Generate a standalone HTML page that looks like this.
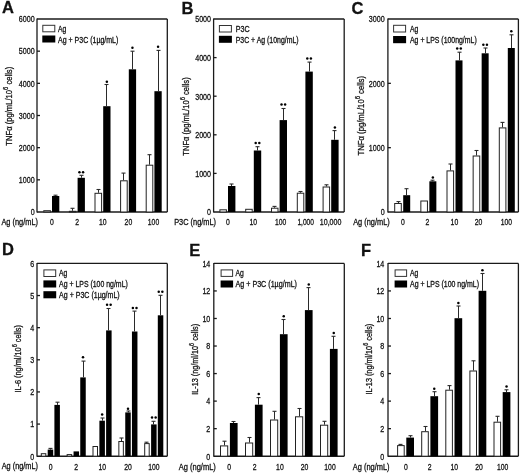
<!DOCTYPE html>
<html><head><meta charset="utf-8"><title>Figure</title>
<style>
html,body{margin:0;padding:0;background:#fff;}
body{width:520px;height:475px;overflow:hidden;}
svg{display:block;font-family:"Liberation Sans", sans-serif;filter:blur(0.25px);}
</style></head>
<body>
<svg width="520" height="475" viewBox="0 0 520 475" fill="#111">
<style>text{stroke:#111;stroke-width:0.28px;}</style>
<rect x="0" y="0" width="520" height="475" fill="#fff"/>
<text x="2.00" y="13.40" font-size="16.5" text-anchor="start" font-weight="bold">A</text>
<line x1="37.00" y1="19.00" x2="167.30" y2="19.00" stroke="#1a1a1a" stroke-width="1.3"/>
<line x1="167.30" y1="19.00" x2="167.30" y2="212.00" stroke="#1a1a1a" stroke-width="1.3"/>
<line x1="37.00" y1="212.00" x2="167.30" y2="212.00" stroke="#1a1a1a" stroke-width="1.6"/>
<line x1="37.00" y1="18.50" x2="37.00" y2="212.50" stroke="#1a1a1a" stroke-width="1.3"/>
<text x="34.60" y="215.30" font-size="8.7" text-anchor="end" font-weight="normal" textLength="3.95" lengthAdjust="spacingAndGlyphs">0</text>
<line x1="37.00" y1="179.83" x2="40.00" y2="179.83" stroke="#1a1a1a" stroke-width="1.3"/>
<text x="34.60" y="183.13" font-size="8.7" text-anchor="end" font-weight="normal" textLength="15.80" lengthAdjust="spacingAndGlyphs">1000</text>
<line x1="37.00" y1="147.67" x2="40.00" y2="147.67" stroke="#1a1a1a" stroke-width="1.3"/>
<text x="34.60" y="150.97" font-size="8.7" text-anchor="end" font-weight="normal" textLength="15.80" lengthAdjust="spacingAndGlyphs">2000</text>
<line x1="37.00" y1="115.50" x2="40.00" y2="115.50" stroke="#1a1a1a" stroke-width="1.3"/>
<text x="34.60" y="118.80" font-size="8.7" text-anchor="end" font-weight="normal" textLength="15.80" lengthAdjust="spacingAndGlyphs">3000</text>
<line x1="37.00" y1="83.33" x2="40.00" y2="83.33" stroke="#1a1a1a" stroke-width="1.3"/>
<text x="34.60" y="86.63" font-size="8.7" text-anchor="end" font-weight="normal" textLength="15.80" lengthAdjust="spacingAndGlyphs">4000</text>
<line x1="37.00" y1="51.17" x2="40.00" y2="51.17" stroke="#1a1a1a" stroke-width="1.3"/>
<text x="34.60" y="54.47" font-size="8.7" text-anchor="end" font-weight="normal" textLength="15.80" lengthAdjust="spacingAndGlyphs">5000</text>
<text x="34.60" y="22.30" font-size="8.7" text-anchor="end" font-weight="normal" textLength="15.80" lengthAdjust="spacingAndGlyphs">6000</text>
<text x="51.80" y="225.00" font-size="8.6" text-anchor="middle" font-weight="normal" textLength="3.80" lengthAdjust="spacingAndGlyphs">0</text>
<text x="77.10" y="225.00" font-size="8.6" text-anchor="middle" font-weight="normal" textLength="3.80" lengthAdjust="spacingAndGlyphs">2</text>
<text x="102.80" y="225.00" font-size="8.6" text-anchor="middle" font-weight="normal" textLength="7.60" lengthAdjust="spacingAndGlyphs">10</text>
<text x="128.40" y="225.00" font-size="8.6" text-anchor="middle" font-weight="normal" textLength="7.60" lengthAdjust="spacingAndGlyphs">20</text>
<text x="153.50" y="225.00" font-size="8.6" text-anchor="middle" font-weight="normal" textLength="11.30" lengthAdjust="spacingAndGlyphs">100</text>
<text x="1.40" y="224.90" font-size="8.2" text-anchor="start" font-weight="normal" textLength="36.60" lengthAdjust="spacingAndGlyphs">Ag (ng/mL)</text>
<text transform="translate(11.80,145.70) rotate(-90)" x="0" y="0" font-size="8.6" textLength="78.90" lengthAdjust="spacingAndGlyphs">TNFα (pg/mL/10<tspan font-size="6.6" dy="-4.0">6</tspan><tspan dy="4.0"> cells)</tspan></text>
<rect x="42.80" y="25.30" width="12.00" height="6.50" fill="#fff" stroke="#333" stroke-width="1.0"/>
<text x="58.10" y="32.20" font-size="8.2" text-anchor="start" font-weight="normal" textLength="8.30" lengthAdjust="spacingAndGlyphs">Ag</text>
<rect x="42.30" y="35.50" width="13.00" height="7.00" fill="#000"/>
<text x="58.10" y="42.90" font-size="8.2" text-anchor="start" font-weight="normal" textLength="60.20" lengthAdjust="spacingAndGlyphs">Ag + P3C (1µg/mL)</text>
<rect x="43.80" y="210.70" width="6.60" height="1.30" fill="#fff" stroke="#222" stroke-width="1.0"/>
<rect x="52.00" y="196.00" width="7.30" height="16.00" fill="#000"/>
<line x1="55.50" y1="196.00" x2="55.50" y2="195.20" stroke="#2a2a2a" stroke-width="1.0"/>
<line x1="53.50" y1="195.20" x2="57.50" y2="195.20" stroke="#2a2a2a" stroke-width="1.1"/>
<rect x="69.40" y="211.30" width="6.60" height="0.70" fill="#fff" stroke="#222" stroke-width="1.0"/>
<line x1="72.50" y1="210.80" x2="72.50" y2="208.30" stroke="#2a2a2a" stroke-width="1.0"/>
<line x1="70.50" y1="208.30" x2="74.50" y2="208.30" stroke="#2a2a2a" stroke-width="1.1"/>
<rect x="77.60" y="177.80" width="7.30" height="34.20" fill="#000"/>
<line x1="81.50" y1="177.80" x2="81.50" y2="175.30" stroke="#2a2a2a" stroke-width="1.0"/>
<line x1="79.50" y1="175.30" x2="83.50" y2="175.30" stroke="#2a2a2a" stroke-width="1.1"/>
<circle cx="79.45" cy="172.20" r="1.25" fill="#000"/>
<circle cx="83.05" cy="172.20" r="1.25" fill="#000"/>
<rect x="95.00" y="193.30" width="6.60" height="18.70" fill="#fff" stroke="#222" stroke-width="1.0"/>
<line x1="98.50" y1="192.80" x2="98.50" y2="189.50" stroke="#2a2a2a" stroke-width="1.0"/>
<line x1="96.50" y1="189.50" x2="100.50" y2="189.50" stroke="#2a2a2a" stroke-width="1.1"/>
<rect x="103.20" y="106.20" width="7.30" height="105.80" fill="#000"/>
<line x1="106.50" y1="106.20" x2="106.50" y2="84.50" stroke="#2a2a2a" stroke-width="1.0"/>
<line x1="104.50" y1="84.50" x2="108.50" y2="84.50" stroke="#2a2a2a" stroke-width="1.1"/>
<circle cx="106.85" cy="81.80" r="1.25" fill="#000"/>
<rect x="120.60" y="180.80" width="6.60" height="31.20" fill="#fff" stroke="#222" stroke-width="1.0"/>
<line x1="123.50" y1="180.30" x2="123.50" y2="173.10" stroke="#2a2a2a" stroke-width="1.0"/>
<line x1="121.50" y1="173.10" x2="125.50" y2="173.10" stroke="#2a2a2a" stroke-width="1.1"/>
<rect x="128.80" y="69.30" width="7.30" height="142.70" fill="#000"/>
<line x1="132.50" y1="69.30" x2="132.50" y2="51.20" stroke="#2a2a2a" stroke-width="1.0"/>
<line x1="130.50" y1="51.20" x2="134.50" y2="51.20" stroke="#2a2a2a" stroke-width="1.1"/>
<circle cx="132.45" cy="47.80" r="1.25" fill="#000"/>
<rect x="146.20" y="165.20" width="6.60" height="46.80" fill="#fff" stroke="#222" stroke-width="1.0"/>
<line x1="149.50" y1="164.70" x2="149.50" y2="154.70" stroke="#2a2a2a" stroke-width="1.0"/>
<line x1="147.50" y1="154.70" x2="151.50" y2="154.70" stroke="#2a2a2a" stroke-width="1.1"/>
<rect x="154.40" y="91.20" width="7.30" height="120.80" fill="#000"/>
<line x1="158.50" y1="91.20" x2="158.50" y2="50.40" stroke="#2a2a2a" stroke-width="1.0"/>
<line x1="156.50" y1="50.40" x2="160.50" y2="50.40" stroke="#2a2a2a" stroke-width="1.1"/>
<circle cx="158.05" cy="46.80" r="1.25" fill="#000"/>
<text x="181.60" y="13.60" font-size="16.5" text-anchor="start" font-weight="bold">B</text>
<line x1="213.60" y1="19.00" x2="344.20" y2="19.00" stroke="#1a1a1a" stroke-width="1.3"/>
<line x1="344.20" y1="19.00" x2="344.20" y2="212.00" stroke="#1a1a1a" stroke-width="1.3"/>
<line x1="213.60" y1="212.00" x2="344.20" y2="212.00" stroke="#1a1a1a" stroke-width="1.6"/>
<line x1="213.60" y1="18.50" x2="213.60" y2="212.50" stroke="#1a1a1a" stroke-width="1.3"/>
<text x="211.00" y="215.30" font-size="8.7" text-anchor="end" font-weight="normal" textLength="3.95" lengthAdjust="spacingAndGlyphs">0</text>
<line x1="213.60" y1="173.40" x2="216.60" y2="173.40" stroke="#1a1a1a" stroke-width="1.3"/>
<text x="211.00" y="176.70" font-size="8.7" text-anchor="end" font-weight="normal" textLength="15.80" lengthAdjust="spacingAndGlyphs">1000</text>
<line x1="213.60" y1="134.80" x2="216.60" y2="134.80" stroke="#1a1a1a" stroke-width="1.3"/>
<text x="211.00" y="138.10" font-size="8.7" text-anchor="end" font-weight="normal" textLength="15.80" lengthAdjust="spacingAndGlyphs">2000</text>
<line x1="213.60" y1="96.20" x2="216.60" y2="96.20" stroke="#1a1a1a" stroke-width="1.3"/>
<text x="211.00" y="99.50" font-size="8.7" text-anchor="end" font-weight="normal" textLength="15.80" lengthAdjust="spacingAndGlyphs">3000</text>
<line x1="213.60" y1="57.60" x2="216.60" y2="57.60" stroke="#1a1a1a" stroke-width="1.3"/>
<text x="211.00" y="60.90" font-size="8.7" text-anchor="end" font-weight="normal" textLength="15.80" lengthAdjust="spacingAndGlyphs">4000</text>
<text x="211.00" y="22.30" font-size="8.7" text-anchor="end" font-weight="normal" textLength="15.80" lengthAdjust="spacingAndGlyphs">5000</text>
<text x="228.00" y="225.00" font-size="8.6" text-anchor="middle" font-weight="normal" textLength="3.80" lengthAdjust="spacingAndGlyphs">0</text>
<text x="253.20" y="225.00" font-size="8.6" text-anchor="middle" font-weight="normal" textLength="7.60" lengthAdjust="spacingAndGlyphs">10</text>
<text x="280.70" y="225.00" font-size="8.6" text-anchor="middle" font-weight="normal" textLength="11.30" lengthAdjust="spacingAndGlyphs">100</text>
<text x="305.70" y="225.00" font-size="8.6" text-anchor="middle" font-weight="normal" textLength="16.60" lengthAdjust="spacingAndGlyphs">1,000</text>
<text x="330.60" y="225.00" font-size="8.6" text-anchor="middle" font-weight="normal" textLength="21.60" lengthAdjust="spacingAndGlyphs">10,000</text>
<text x="174.20" y="225.20" font-size="8.2" text-anchor="start" font-weight="normal" textLength="41.80" lengthAdjust="spacingAndGlyphs">P3C (ng/mL)</text>
<text transform="translate(188.80,155.70) rotate(-90)" x="0" y="0" font-size="8.6" textLength="78.40" lengthAdjust="spacingAndGlyphs">TNFα (pg/mL/10<tspan font-size="6.6" dy="-4.0">6</tspan><tspan dy="4.0"> cells)</tspan></text>
<rect x="219.40" y="25.50" width="12.00" height="6.50" fill="#fff" stroke="#333" stroke-width="1.0"/>
<text x="235.70" y="32.40" font-size="8.2" text-anchor="start" font-weight="normal" textLength="13.90" lengthAdjust="spacingAndGlyphs">P3C</text>
<rect x="218.90" y="35.80" width="13.00" height="7.00" fill="#000"/>
<text x="235.70" y="43.00" font-size="8.2" text-anchor="start" font-weight="normal" textLength="62.90" lengthAdjust="spacingAndGlyphs">P3C + Ag (10ng/mL)</text>
<rect x="219.90" y="209.80" width="6.50" height="2.20" fill="#fff" stroke="#222" stroke-width="1.0"/>
<rect x="228.00" y="186.00" width="7.40" height="26.00" fill="#000"/>
<line x1="231.50" y1="186.00" x2="231.50" y2="184.00" stroke="#2a2a2a" stroke-width="1.0"/>
<line x1="229.50" y1="184.00" x2="233.50" y2="184.00" stroke="#2a2a2a" stroke-width="1.1"/>
<rect x="245.70" y="209.30" width="6.50" height="2.70" fill="#fff" stroke="#222" stroke-width="1.0"/>
<rect x="253.80" y="150.50" width="7.40" height="61.50" fill="#000"/>
<line x1="257.50" y1="150.50" x2="257.50" y2="146.70" stroke="#2a2a2a" stroke-width="1.0"/>
<line x1="255.50" y1="146.70" x2="259.50" y2="146.70" stroke="#2a2a2a" stroke-width="1.1"/>
<circle cx="255.70" cy="143.00" r="1.25" fill="#000"/>
<circle cx="259.30" cy="143.00" r="1.25" fill="#000"/>
<rect x="271.50" y="208.20" width="6.50" height="3.80" fill="#fff" stroke="#222" stroke-width="1.0"/>
<line x1="274.50" y1="207.70" x2="274.50" y2="206.40" stroke="#2a2a2a" stroke-width="1.0"/>
<line x1="272.50" y1="206.40" x2="276.50" y2="206.40" stroke="#2a2a2a" stroke-width="1.1"/>
<rect x="279.60" y="120.10" width="7.40" height="91.90" fill="#000"/>
<line x1="283.50" y1="120.10" x2="283.50" y2="108.50" stroke="#2a2a2a" stroke-width="1.0"/>
<line x1="281.50" y1="108.50" x2="285.50" y2="108.50" stroke="#2a2a2a" stroke-width="1.1"/>
<circle cx="281.50" cy="104.40" r="1.25" fill="#000"/>
<circle cx="285.10" cy="104.40" r="1.25" fill="#000"/>
<rect x="297.30" y="193.20" width="6.50" height="18.80" fill="#fff" stroke="#222" stroke-width="1.0"/>
<line x1="300.50" y1="192.70" x2="300.50" y2="191.50" stroke="#2a2a2a" stroke-width="1.0"/>
<line x1="298.50" y1="191.50" x2="302.50" y2="191.50" stroke="#2a2a2a" stroke-width="1.1"/>
<rect x="305.40" y="71.60" width="7.40" height="140.40" fill="#000"/>
<line x1="309.50" y1="71.60" x2="309.50" y2="62.10" stroke="#2a2a2a" stroke-width="1.0"/>
<line x1="307.50" y1="62.10" x2="311.50" y2="62.10" stroke="#2a2a2a" stroke-width="1.1"/>
<circle cx="307.30" cy="58.60" r="1.25" fill="#000"/>
<circle cx="310.90" cy="58.60" r="1.25" fill="#000"/>
<rect x="323.10" y="187.00" width="6.50" height="25.00" fill="#fff" stroke="#222" stroke-width="1.0"/>
<line x1="326.50" y1="186.50" x2="326.50" y2="184.80" stroke="#2a2a2a" stroke-width="1.0"/>
<line x1="324.50" y1="184.80" x2="328.50" y2="184.80" stroke="#2a2a2a" stroke-width="1.1"/>
<rect x="331.20" y="139.80" width="7.40" height="72.20" fill="#000"/>
<line x1="334.50" y1="139.80" x2="334.50" y2="130.60" stroke="#2a2a2a" stroke-width="1.0"/>
<line x1="332.50" y1="130.60" x2="336.50" y2="130.60" stroke="#2a2a2a" stroke-width="1.1"/>
<circle cx="334.90" cy="127.40" r="1.25" fill="#000"/>
<text x="351.60" y="13.90" font-size="16.5" text-anchor="start" font-weight="bold">C</text>
<line x1="387.90" y1="19.00" x2="518.40" y2="19.00" stroke="#1a1a1a" stroke-width="1.3"/>
<line x1="518.40" y1="19.00" x2="518.40" y2="212.00" stroke="#1a1a1a" stroke-width="1.3"/>
<line x1="387.90" y1="212.00" x2="518.40" y2="212.00" stroke="#1a1a1a" stroke-width="1.6"/>
<line x1="387.90" y1="18.50" x2="387.90" y2="212.50" stroke="#1a1a1a" stroke-width="1.3"/>
<text x="384.60" y="215.30" font-size="8.7" text-anchor="end" font-weight="normal" textLength="3.95" lengthAdjust="spacingAndGlyphs">0</text>
<line x1="387.90" y1="147.67" x2="390.90" y2="147.67" stroke="#1a1a1a" stroke-width="1.3"/>
<text x="384.60" y="150.97" font-size="8.7" text-anchor="end" font-weight="normal" textLength="15.80" lengthAdjust="spacingAndGlyphs">1000</text>
<line x1="387.90" y1="83.33" x2="390.90" y2="83.33" stroke="#1a1a1a" stroke-width="1.3"/>
<text x="384.60" y="86.63" font-size="8.7" text-anchor="end" font-weight="normal" textLength="15.80" lengthAdjust="spacingAndGlyphs">2000</text>
<text x="384.60" y="22.30" font-size="8.7" text-anchor="end" font-weight="normal" textLength="15.80" lengthAdjust="spacingAndGlyphs">3000</text>
<text x="402.80" y="225.00" font-size="8.6" text-anchor="middle" font-weight="normal" textLength="3.80" lengthAdjust="spacingAndGlyphs">0</text>
<text x="427.50" y="225.00" font-size="8.6" text-anchor="middle" font-weight="normal" textLength="3.80" lengthAdjust="spacingAndGlyphs">2</text>
<text x="454.40" y="225.00" font-size="8.6" text-anchor="middle" font-weight="normal" textLength="7.60" lengthAdjust="spacingAndGlyphs">10</text>
<text x="478.60" y="225.00" font-size="8.6" text-anchor="middle" font-weight="normal" textLength="7.60" lengthAdjust="spacingAndGlyphs">20</text>
<text x="506.40" y="225.00" font-size="8.6" text-anchor="middle" font-weight="normal" textLength="11.30" lengthAdjust="spacingAndGlyphs">100</text>
<text x="353.20" y="225.20" font-size="8.2" text-anchor="start" font-weight="normal" textLength="36.60" lengthAdjust="spacingAndGlyphs">Ag (ng/mL)</text>
<text transform="translate(363.80,155.40) rotate(-90)" x="0" y="0" font-size="8.6" textLength="79.40" lengthAdjust="spacingAndGlyphs">TNFα (pg/mL/10<tspan font-size="6.6" dy="-4.0">6</tspan><tspan dy="4.0"> cells)</tspan></text>
<rect x="393.60" y="25.30" width="12.00" height="6.70" fill="#fff" stroke="#333" stroke-width="1.0"/>
<text x="410.00" y="32.30" font-size="8.2" text-anchor="start" font-weight="normal" textLength="8.30" lengthAdjust="spacingAndGlyphs">Ag</text>
<rect x="393.10" y="36.00" width="13.00" height="7.20" fill="#000"/>
<text x="410.00" y="43.20" font-size="8.2" text-anchor="start" font-weight="normal" textLength="66.70" lengthAdjust="spacingAndGlyphs">Ag + LPS (100ng/mL)</text>
<rect x="394.70" y="203.50" width="6.60" height="8.50" fill="#fff" stroke="#222" stroke-width="1.0"/>
<line x1="398.50" y1="203.00" x2="398.50" y2="201.60" stroke="#2a2a2a" stroke-width="1.0"/>
<line x1="396.50" y1="201.60" x2="400.50" y2="201.60" stroke="#2a2a2a" stroke-width="1.1"/>
<rect x="403.20" y="195.20" width="7.00" height="16.80" fill="#000"/>
<line x1="406.50" y1="195.20" x2="406.50" y2="188.70" stroke="#2a2a2a" stroke-width="1.0"/>
<line x1="404.50" y1="188.70" x2="408.50" y2="188.70" stroke="#2a2a2a" stroke-width="1.1"/>
<rect x="420.85" y="201.00" width="6.60" height="11.00" fill="#fff" stroke="#222" stroke-width="1.0"/>
<rect x="429.35" y="181.30" width="7.00" height="30.70" fill="#000"/>
<line x1="432.50" y1="181.30" x2="432.50" y2="180.20" stroke="#2a2a2a" stroke-width="1.0"/>
<line x1="430.50" y1="180.20" x2="434.50" y2="180.20" stroke="#2a2a2a" stroke-width="1.1"/>
<circle cx="432.85" cy="177.40" r="1.25" fill="#000"/>
<rect x="447.00" y="170.90" width="6.60" height="41.10" fill="#fff" stroke="#222" stroke-width="1.0"/>
<line x1="450.50" y1="170.40" x2="450.50" y2="164.00" stroke="#2a2a2a" stroke-width="1.0"/>
<line x1="448.50" y1="164.00" x2="452.50" y2="164.00" stroke="#2a2a2a" stroke-width="1.1"/>
<rect x="455.50" y="60.40" width="7.00" height="151.60" fill="#000"/>
<line x1="459.50" y1="60.40" x2="459.50" y2="52.20" stroke="#2a2a2a" stroke-width="1.0"/>
<line x1="457.50" y1="52.20" x2="461.50" y2="52.20" stroke="#2a2a2a" stroke-width="1.1"/>
<circle cx="457.20" cy="48.50" r="1.25" fill="#000"/>
<circle cx="460.80" cy="48.50" r="1.25" fill="#000"/>
<rect x="473.15" y="156.00" width="6.60" height="56.00" fill="#fff" stroke="#222" stroke-width="1.0"/>
<line x1="476.50" y1="155.50" x2="476.50" y2="150.50" stroke="#2a2a2a" stroke-width="1.0"/>
<line x1="474.50" y1="150.50" x2="478.50" y2="150.50" stroke="#2a2a2a" stroke-width="1.1"/>
<rect x="481.65" y="53.30" width="7.00" height="158.70" fill="#000"/>
<line x1="485.50" y1="53.30" x2="485.50" y2="48.00" stroke="#2a2a2a" stroke-width="1.0"/>
<line x1="483.50" y1="48.00" x2="487.50" y2="48.00" stroke="#2a2a2a" stroke-width="1.1"/>
<circle cx="483.35" cy="44.80" r="1.25" fill="#000"/>
<circle cx="486.95" cy="44.80" r="1.25" fill="#000"/>
<rect x="499.30" y="127.90" width="6.60" height="84.10" fill="#fff" stroke="#222" stroke-width="1.0"/>
<line x1="502.50" y1="127.40" x2="502.50" y2="122.40" stroke="#2a2a2a" stroke-width="1.0"/>
<line x1="500.50" y1="122.40" x2="504.50" y2="122.40" stroke="#2a2a2a" stroke-width="1.1"/>
<rect x="507.80" y="48.00" width="7.00" height="164.00" fill="#000"/>
<line x1="511.50" y1="48.00" x2="511.50" y2="34.80" stroke="#2a2a2a" stroke-width="1.0"/>
<line x1="509.50" y1="34.80" x2="513.50" y2="34.80" stroke="#2a2a2a" stroke-width="1.1"/>
<circle cx="511.30" cy="31.30" r="1.25" fill="#000"/>
<text x="1.90" y="254.50" font-size="16.5" text-anchor="start" font-weight="bold">D</text>
<line x1="37.00" y1="263.40" x2="167.30" y2="263.40" stroke="#1a1a1a" stroke-width="1.3"/>
<line x1="167.30" y1="263.40" x2="167.30" y2="456.20" stroke="#1a1a1a" stroke-width="1.3"/>
<line x1="37.00" y1="456.20" x2="167.30" y2="456.20" stroke="#1a1a1a" stroke-width="1.6"/>
<line x1="37.00" y1="262.90" x2="37.00" y2="456.70" stroke="#1a1a1a" stroke-width="1.3"/>
<text x="34.20" y="459.50" font-size="8.7" text-anchor="end" font-weight="normal" textLength="3.95" lengthAdjust="spacingAndGlyphs">0</text>
<line x1="37.00" y1="424.07" x2="40.00" y2="424.07" stroke="#1a1a1a" stroke-width="1.3"/>
<text x="34.20" y="427.37" font-size="8.7" text-anchor="end" font-weight="normal" textLength="3.95" lengthAdjust="spacingAndGlyphs">1</text>
<line x1="37.00" y1="391.93" x2="40.00" y2="391.93" stroke="#1a1a1a" stroke-width="1.3"/>
<text x="34.20" y="395.23" font-size="8.7" text-anchor="end" font-weight="normal" textLength="3.95" lengthAdjust="spacingAndGlyphs">2</text>
<line x1="37.00" y1="359.80" x2="40.00" y2="359.80" stroke="#1a1a1a" stroke-width="1.3"/>
<text x="34.20" y="363.10" font-size="8.7" text-anchor="end" font-weight="normal" textLength="3.95" lengthAdjust="spacingAndGlyphs">3</text>
<line x1="37.00" y1="327.67" x2="40.00" y2="327.67" stroke="#1a1a1a" stroke-width="1.3"/>
<text x="34.20" y="330.97" font-size="8.7" text-anchor="end" font-weight="normal" textLength="3.95" lengthAdjust="spacingAndGlyphs">4</text>
<line x1="37.00" y1="295.53" x2="40.00" y2="295.53" stroke="#1a1a1a" stroke-width="1.3"/>
<text x="34.20" y="298.83" font-size="8.7" text-anchor="end" font-weight="normal" textLength="3.95" lengthAdjust="spacingAndGlyphs">5</text>
<text x="34.20" y="266.70" font-size="8.7" text-anchor="end" font-weight="normal" textLength="3.95" lengthAdjust="spacingAndGlyphs">6</text>
<text x="50.60" y="469.50" font-size="8.6" text-anchor="middle" font-weight="normal" textLength="3.80" lengthAdjust="spacingAndGlyphs">0</text>
<text x="76.20" y="469.50" font-size="8.6" text-anchor="middle" font-weight="normal" textLength="3.80" lengthAdjust="spacingAndGlyphs">2</text>
<text x="102.30" y="469.50" font-size="8.6" text-anchor="middle" font-weight="normal" textLength="7.60" lengthAdjust="spacingAndGlyphs">10</text>
<text x="128.00" y="469.50" font-size="8.6" text-anchor="middle" font-weight="normal" textLength="7.60" lengthAdjust="spacingAndGlyphs">20</text>
<text x="153.90" y="469.50" font-size="8.6" text-anchor="middle" font-weight="normal" textLength="11.30" lengthAdjust="spacingAndGlyphs">100</text>
<text x="1.70" y="469.40" font-size="8.2" text-anchor="start" font-weight="normal" textLength="36.30" lengthAdjust="spacingAndGlyphs">Ag (ng/mL)</text>
<text transform="translate(20.80,392.60) rotate(-90)" x="0" y="0" font-size="8.6" textLength="67.60" lengthAdjust="spacingAndGlyphs">IL-6 (ng/ml/10<tspan font-size="6.6" dy="-4.0">6</tspan><tspan dy="4.0"> cells)</tspan></text>
<rect x="43.90" y="269.90" width="11.80" height="6.60" fill="#fff" stroke="#333" stroke-width="1.0"/>
<text x="59.10" y="275.80" font-size="8.2" text-anchor="start" font-weight="normal" textLength="8.30" lengthAdjust="spacingAndGlyphs">Ag</text>
<rect x="43.40" y="280.40" width="12.80" height="7.10" fill="#000"/>
<text x="59.10" y="286.70" font-size="8.2" text-anchor="start" font-weight="normal" textLength="68.70" lengthAdjust="spacingAndGlyphs">Ag + LPS (100 ng/mL)</text>
<rect x="43.40" y="291.20" width="12.80" height="7.10" fill="#000"/>
<text x="59.10" y="297.60" font-size="8.2" text-anchor="start" font-weight="normal" textLength="60.60" lengthAdjust="spacingAndGlyphs">Ag + P3C (1µg/mL)</text>
<rect x="41.30" y="453.70" width="4.50" height="2.50" fill="#fff" stroke="#222" stroke-width="1.0"/>
<rect x="47.70" y="449.60" width="5.50" height="6.60" fill="#000"/>
<line x1="50.50" y1="449.60" x2="50.50" y2="448.40" stroke="#2a2a2a" stroke-width="1.0"/>
<line x1="48.50" y1="448.40" x2="52.50" y2="448.40" stroke="#2a2a2a" stroke-width="1.1"/>
<rect x="54.40" y="404.90" width="5.50" height="51.30" fill="#000"/>
<line x1="57.50" y1="404.90" x2="57.50" y2="402.20" stroke="#2a2a2a" stroke-width="1.0"/>
<line x1="55.50" y1="402.20" x2="59.50" y2="402.20" stroke="#2a2a2a" stroke-width="1.1"/>
<rect x="67.15" y="454.60" width="4.50" height="1.60" fill="#fff" stroke="#222" stroke-width="1.0"/>
<rect x="73.55" y="451.40" width="5.50" height="4.80" fill="#000"/>
<rect x="80.25" y="377.40" width="5.50" height="78.80" fill="#000"/>
<line x1="83.50" y1="377.40" x2="83.50" y2="361.10" stroke="#2a2a2a" stroke-width="1.0"/>
<line x1="81.50" y1="361.10" x2="85.50" y2="361.10" stroke="#2a2a2a" stroke-width="1.1"/>
<circle cx="83.00" cy="357.30" r="1.25" fill="#000"/>
<rect x="93.00" y="446.50" width="4.50" height="9.70" fill="#fff" stroke="#222" stroke-width="1.0"/>
<rect x="99.40" y="420.70" width="5.50" height="35.50" fill="#000"/>
<line x1="102.50" y1="420.70" x2="102.50" y2="418.00" stroke="#2a2a2a" stroke-width="1.0"/>
<line x1="100.50" y1="418.00" x2="104.50" y2="418.00" stroke="#2a2a2a" stroke-width="1.1"/>
<circle cx="102.15" cy="414.60" r="1.25" fill="#000"/>
<rect x="106.10" y="330.40" width="5.50" height="125.80" fill="#000"/>
<line x1="108.50" y1="330.40" x2="108.50" y2="308.50" stroke="#2a2a2a" stroke-width="1.0"/>
<line x1="106.50" y1="308.50" x2="110.50" y2="308.50" stroke="#2a2a2a" stroke-width="1.1"/>
<circle cx="107.05" cy="304.70" r="1.25" fill="#000"/>
<circle cx="110.65" cy="304.70" r="1.25" fill="#000"/>
<rect x="118.85" y="441.50" width="4.50" height="14.70" fill="#fff" stroke="#222" stroke-width="1.0"/>
<line x1="121.50" y1="441.00" x2="121.50" y2="438.00" stroke="#2a2a2a" stroke-width="1.0"/>
<line x1="119.50" y1="438.00" x2="123.50" y2="438.00" stroke="#2a2a2a" stroke-width="1.1"/>
<rect x="125.25" y="412.40" width="5.50" height="43.80" fill="#000"/>
<line x1="128.50" y1="412.40" x2="128.50" y2="411.00" stroke="#2a2a2a" stroke-width="1.0"/>
<line x1="126.50" y1="411.00" x2="130.50" y2="411.00" stroke="#2a2a2a" stroke-width="1.1"/>
<circle cx="128.00" cy="408.80" r="1.25" fill="#000"/>
<rect x="131.95" y="331.50" width="5.50" height="124.70" fill="#000"/>
<line x1="134.50" y1="331.50" x2="134.50" y2="311.10" stroke="#2a2a2a" stroke-width="1.0"/>
<line x1="132.50" y1="311.10" x2="136.50" y2="311.10" stroke="#2a2a2a" stroke-width="1.1"/>
<circle cx="132.90" cy="307.90" r="1.25" fill="#000"/>
<circle cx="136.50" cy="307.90" r="1.25" fill="#000"/>
<rect x="144.70" y="443.60" width="4.50" height="12.60" fill="#fff" stroke="#222" stroke-width="1.0"/>
<line x1="146.50" y1="443.10" x2="146.50" y2="442.20" stroke="#2a2a2a" stroke-width="1.0"/>
<line x1="144.50" y1="442.20" x2="148.50" y2="442.20" stroke="#2a2a2a" stroke-width="1.1"/>
<rect x="151.10" y="424.40" width="5.50" height="31.80" fill="#000"/>
<line x1="153.50" y1="424.40" x2="153.50" y2="421.30" stroke="#2a2a2a" stroke-width="1.0"/>
<line x1="151.50" y1="421.30" x2="155.50" y2="421.30" stroke="#2a2a2a" stroke-width="1.1"/>
<circle cx="152.05" cy="417.40" r="1.25" fill="#000"/>
<circle cx="155.65" cy="417.40" r="1.25" fill="#000"/>
<rect x="157.80" y="315.30" width="5.50" height="140.90" fill="#000"/>
<line x1="160.50" y1="315.30" x2="160.50" y2="295.30" stroke="#2a2a2a" stroke-width="1.0"/>
<line x1="158.50" y1="295.30" x2="162.50" y2="295.30" stroke="#2a2a2a" stroke-width="1.1"/>
<circle cx="158.75" cy="291.70" r="1.25" fill="#000"/>
<circle cx="162.35" cy="291.70" r="1.25" fill="#000"/>
<text x="189.20" y="255.50" font-size="16.5" text-anchor="start" font-weight="bold">E</text>
<line x1="213.80" y1="263.40" x2="344.30" y2="263.40" stroke="#1a1a1a" stroke-width="1.3"/>
<line x1="344.30" y1="263.40" x2="344.30" y2="456.20" stroke="#1a1a1a" stroke-width="1.3"/>
<line x1="213.80" y1="456.20" x2="344.30" y2="456.20" stroke="#1a1a1a" stroke-width="1.6"/>
<line x1="213.80" y1="262.90" x2="213.80" y2="456.70" stroke="#1a1a1a" stroke-width="1.3"/>
<text x="210.30" y="459.50" font-size="8.7" text-anchor="end" font-weight="normal" textLength="3.95" lengthAdjust="spacingAndGlyphs">0</text>
<line x1="213.80" y1="428.66" x2="216.80" y2="428.66" stroke="#1a1a1a" stroke-width="1.3"/>
<text x="210.30" y="431.96" font-size="8.7" text-anchor="end" font-weight="normal" textLength="3.95" lengthAdjust="spacingAndGlyphs">2</text>
<line x1="213.80" y1="401.11" x2="216.80" y2="401.11" stroke="#1a1a1a" stroke-width="1.3"/>
<text x="210.30" y="404.41" font-size="8.7" text-anchor="end" font-weight="normal" textLength="3.95" lengthAdjust="spacingAndGlyphs">4</text>
<line x1="213.80" y1="373.57" x2="216.80" y2="373.57" stroke="#1a1a1a" stroke-width="1.3"/>
<text x="210.30" y="376.87" font-size="8.7" text-anchor="end" font-weight="normal" textLength="3.95" lengthAdjust="spacingAndGlyphs">6</text>
<line x1="213.80" y1="346.03" x2="216.80" y2="346.03" stroke="#1a1a1a" stroke-width="1.3"/>
<text x="210.30" y="349.33" font-size="8.7" text-anchor="end" font-weight="normal" textLength="3.95" lengthAdjust="spacingAndGlyphs">8</text>
<line x1="213.80" y1="318.49" x2="216.80" y2="318.49" stroke="#1a1a1a" stroke-width="1.3"/>
<text x="210.30" y="321.79" font-size="8.7" text-anchor="end" font-weight="normal" textLength="7.90" lengthAdjust="spacingAndGlyphs">10</text>
<line x1="213.80" y1="290.94" x2="216.80" y2="290.94" stroke="#1a1a1a" stroke-width="1.3"/>
<text x="210.30" y="294.24" font-size="8.7" text-anchor="end" font-weight="normal" textLength="7.90" lengthAdjust="spacingAndGlyphs">12</text>
<text x="210.30" y="266.70" font-size="8.7" text-anchor="end" font-weight="normal" textLength="7.90" lengthAdjust="spacingAndGlyphs">14</text>
<text x="229.20" y="469.50" font-size="8.6" text-anchor="middle" font-weight="normal" textLength="3.80" lengthAdjust="spacingAndGlyphs">0</text>
<text x="254.60" y="469.50" font-size="8.6" text-anchor="middle" font-weight="normal" textLength="3.80" lengthAdjust="spacingAndGlyphs">2</text>
<text x="279.90" y="469.50" font-size="8.6" text-anchor="middle" font-weight="normal" textLength="7.60" lengthAdjust="spacingAndGlyphs">10</text>
<text x="304.60" y="469.50" font-size="8.6" text-anchor="middle" font-weight="normal" textLength="7.60" lengthAdjust="spacingAndGlyphs">20</text>
<text x="330.00" y="469.50" font-size="8.6" text-anchor="middle" font-weight="normal" textLength="11.30" lengthAdjust="spacingAndGlyphs">100</text>
<text x="178.80" y="469.50" font-size="8.2" text-anchor="start" font-weight="normal" textLength="37.00" lengthAdjust="spacingAndGlyphs">Ag (ng/mL)</text>
<text transform="translate(197.80,394.80) rotate(-90)" x="0" y="0" font-size="8.6" textLength="70.90" lengthAdjust="spacingAndGlyphs">IL-13 (ng/ml/10<tspan font-size="6.6" dy="-4.0">6</tspan><tspan dy="4.0"> cells)</tspan></text>
<rect x="221.10" y="269.90" width="11.50" height="6.50" fill="#fff" stroke="#333" stroke-width="1.0"/>
<text x="235.50" y="275.80" font-size="8.2" text-anchor="start" font-weight="normal" textLength="8.30" lengthAdjust="spacingAndGlyphs">Ag</text>
<rect x="220.60" y="280.50" width="12.50" height="7.00" fill="#000"/>
<text x="235.50" y="286.90" font-size="8.2" text-anchor="start" font-weight="normal" textLength="61.50" lengthAdjust="spacingAndGlyphs">Ag + P3C (1µg/mL)</text>
<rect x="220.50" y="445.90" width="7.20" height="10.30" fill="#fff" stroke="#222" stroke-width="1.0"/>
<line x1="224.50" y1="445.40" x2="224.50" y2="441.20" stroke="#2a2a2a" stroke-width="1.0"/>
<line x1="222.50" y1="441.20" x2="226.50" y2="441.20" stroke="#2a2a2a" stroke-width="1.1"/>
<rect x="229.90" y="423.00" width="7.70" height="33.20" fill="#000"/>
<line x1="233.50" y1="423.00" x2="233.50" y2="421.50" stroke="#2a2a2a" stroke-width="1.0"/>
<line x1="231.50" y1="421.50" x2="235.50" y2="421.50" stroke="#2a2a2a" stroke-width="1.1"/>
<rect x="245.50" y="443.00" width="7.20" height="13.20" fill="#fff" stroke="#222" stroke-width="1.0"/>
<line x1="249.50" y1="442.50" x2="249.50" y2="437.50" stroke="#2a2a2a" stroke-width="1.0"/>
<line x1="247.50" y1="437.50" x2="251.50" y2="437.50" stroke="#2a2a2a" stroke-width="1.1"/>
<rect x="254.90" y="404.70" width="7.70" height="51.50" fill="#000"/>
<line x1="258.50" y1="404.70" x2="258.50" y2="397.60" stroke="#2a2a2a" stroke-width="1.0"/>
<line x1="256.50" y1="397.60" x2="260.50" y2="397.60" stroke="#2a2a2a" stroke-width="1.1"/>
<circle cx="258.75" cy="394.00" r="1.25" fill="#000"/>
<rect x="270.50" y="420.00" width="7.20" height="36.20" fill="#fff" stroke="#222" stroke-width="1.0"/>
<line x1="274.50" y1="419.50" x2="274.50" y2="411.30" stroke="#2a2a2a" stroke-width="1.0"/>
<line x1="272.50" y1="411.30" x2="276.50" y2="411.30" stroke="#2a2a2a" stroke-width="1.1"/>
<rect x="279.90" y="334.20" width="7.70" height="122.00" fill="#000"/>
<line x1="283.50" y1="334.20" x2="283.50" y2="319.50" stroke="#2a2a2a" stroke-width="1.0"/>
<line x1="281.50" y1="319.50" x2="285.50" y2="319.50" stroke="#2a2a2a" stroke-width="1.1"/>
<circle cx="283.75" cy="316.30" r="1.25" fill="#000"/>
<rect x="295.50" y="416.80" width="7.20" height="39.40" fill="#fff" stroke="#222" stroke-width="1.0"/>
<line x1="299.50" y1="416.30" x2="299.50" y2="408.50" stroke="#2a2a2a" stroke-width="1.0"/>
<line x1="297.50" y1="408.50" x2="301.50" y2="408.50" stroke="#2a2a2a" stroke-width="1.1"/>
<rect x="304.90" y="310.10" width="7.70" height="146.10" fill="#000"/>
<line x1="308.50" y1="310.10" x2="308.50" y2="287.60" stroke="#2a2a2a" stroke-width="1.0"/>
<line x1="306.50" y1="287.60" x2="310.50" y2="287.60" stroke="#2a2a2a" stroke-width="1.1"/>
<circle cx="308.75" cy="284.60" r="1.25" fill="#000"/>
<rect x="320.50" y="425.20" width="7.20" height="31.00" fill="#fff" stroke="#222" stroke-width="1.0"/>
<line x1="324.50" y1="424.70" x2="324.50" y2="421.30" stroke="#2a2a2a" stroke-width="1.0"/>
<line x1="322.50" y1="421.30" x2="326.50" y2="421.30" stroke="#2a2a2a" stroke-width="1.1"/>
<rect x="329.90" y="348.90" width="7.70" height="107.30" fill="#000"/>
<line x1="333.50" y1="348.90" x2="333.50" y2="336.30" stroke="#2a2a2a" stroke-width="1.0"/>
<line x1="331.50" y1="336.30" x2="335.50" y2="336.30" stroke="#2a2a2a" stroke-width="1.1"/>
<circle cx="333.75" cy="333.10" r="1.25" fill="#000"/>
<text x="361.00" y="255.50" font-size="16.5" text-anchor="start" font-weight="bold">F</text>
<line x1="388.00" y1="263.40" x2="518.40" y2="263.40" stroke="#1a1a1a" stroke-width="1.3"/>
<line x1="518.40" y1="263.40" x2="518.40" y2="456.20" stroke="#1a1a1a" stroke-width="1.3"/>
<line x1="388.00" y1="456.20" x2="518.40" y2="456.20" stroke="#1a1a1a" stroke-width="1.6"/>
<line x1="388.00" y1="262.90" x2="388.00" y2="456.70" stroke="#1a1a1a" stroke-width="1.3"/>
<text x="384.30" y="459.50" font-size="8.7" text-anchor="end" font-weight="normal" textLength="3.95" lengthAdjust="spacingAndGlyphs">0</text>
<line x1="388.00" y1="428.66" x2="391.00" y2="428.66" stroke="#1a1a1a" stroke-width="1.3"/>
<text x="384.30" y="431.96" font-size="8.7" text-anchor="end" font-weight="normal" textLength="3.95" lengthAdjust="spacingAndGlyphs">2</text>
<line x1="388.00" y1="401.11" x2="391.00" y2="401.11" stroke="#1a1a1a" stroke-width="1.3"/>
<text x="384.30" y="404.41" font-size="8.7" text-anchor="end" font-weight="normal" textLength="3.95" lengthAdjust="spacingAndGlyphs">4</text>
<line x1="388.00" y1="373.57" x2="391.00" y2="373.57" stroke="#1a1a1a" stroke-width="1.3"/>
<text x="384.30" y="376.87" font-size="8.7" text-anchor="end" font-weight="normal" textLength="3.95" lengthAdjust="spacingAndGlyphs">6</text>
<line x1="388.00" y1="346.03" x2="391.00" y2="346.03" stroke="#1a1a1a" stroke-width="1.3"/>
<text x="384.30" y="349.33" font-size="8.7" text-anchor="end" font-weight="normal" textLength="3.95" lengthAdjust="spacingAndGlyphs">8</text>
<line x1="388.00" y1="318.49" x2="391.00" y2="318.49" stroke="#1a1a1a" stroke-width="1.3"/>
<text x="384.30" y="321.79" font-size="8.7" text-anchor="end" font-weight="normal" textLength="7.90" lengthAdjust="spacingAndGlyphs">10</text>
<line x1="388.00" y1="290.94" x2="391.00" y2="290.94" stroke="#1a1a1a" stroke-width="1.3"/>
<text x="384.30" y="294.24" font-size="8.7" text-anchor="end" font-weight="normal" textLength="7.90" lengthAdjust="spacingAndGlyphs">12</text>
<text x="384.30" y="266.70" font-size="8.7" text-anchor="end" font-weight="normal" textLength="7.90" lengthAdjust="spacingAndGlyphs">14</text>
<text x="405.80" y="469.50" font-size="8.6" text-anchor="middle" font-weight="normal" textLength="3.80" lengthAdjust="spacingAndGlyphs">0</text>
<text x="429.60" y="469.50" font-size="8.6" text-anchor="middle" font-weight="normal" textLength="3.80" lengthAdjust="spacingAndGlyphs">2</text>
<text x="454.20" y="469.50" font-size="8.6" text-anchor="middle" font-weight="normal" textLength="7.60" lengthAdjust="spacingAndGlyphs">10</text>
<text x="479.00" y="469.50" font-size="8.6" text-anchor="middle" font-weight="normal" textLength="7.60" lengthAdjust="spacingAndGlyphs">20</text>
<text x="502.60" y="469.50" font-size="8.6" text-anchor="middle" font-weight="normal" textLength="11.30" lengthAdjust="spacingAndGlyphs">100</text>
<text x="352.80" y="469.50" font-size="8.2" text-anchor="start" font-weight="normal" textLength="36.80" lengthAdjust="spacingAndGlyphs">Ag (ng/mL)</text>
<text transform="translate(371.80,394.60) rotate(-90)" x="0" y="0" font-size="8.6" textLength="70.80" lengthAdjust="spacingAndGlyphs">IL-13 (ng/ml/10<tspan font-size="6.6" dy="-4.0">6</tspan><tspan dy="4.0"> cells)</tspan></text>
<rect x="395.10" y="269.90" width="11.50" height="6.50" fill="#fff" stroke="#333" stroke-width="1.0"/>
<text x="410.00" y="275.80" font-size="8.2" text-anchor="start" font-weight="normal" textLength="8.30" lengthAdjust="spacingAndGlyphs">Ag</text>
<rect x="394.60" y="280.50" width="12.50" height="7.00" fill="#000"/>
<text x="410.00" y="286.90" font-size="8.2" text-anchor="start" font-weight="normal" textLength="69.00" lengthAdjust="spacingAndGlyphs">Ag + LPS (100 ng/mL)</text>
<rect x="397.60" y="445.60" width="6.60" height="10.60" fill="#fff" stroke="#222" stroke-width="1.0"/>
<line x1="400.50" y1="445.10" x2="400.50" y2="444.40" stroke="#2a2a2a" stroke-width="1.0"/>
<line x1="398.50" y1="444.40" x2="402.50" y2="444.40" stroke="#2a2a2a" stroke-width="1.1"/>
<rect x="406.30" y="437.60" width="7.70" height="18.60" fill="#000"/>
<line x1="410.50" y1="437.60" x2="410.50" y2="435.70" stroke="#2a2a2a" stroke-width="1.0"/>
<line x1="408.50" y1="435.70" x2="412.50" y2="435.70" stroke="#2a2a2a" stroke-width="1.1"/>
<rect x="421.70" y="431.70" width="6.60" height="24.50" fill="#fff" stroke="#222" stroke-width="1.0"/>
<line x1="425.50" y1="431.20" x2="425.50" y2="426.50" stroke="#2a2a2a" stroke-width="1.0"/>
<line x1="423.50" y1="426.50" x2="427.50" y2="426.50" stroke="#2a2a2a" stroke-width="1.1"/>
<rect x="430.40" y="396.20" width="7.70" height="60.00" fill="#000"/>
<line x1="434.50" y1="396.20" x2="434.50" y2="391.70" stroke="#2a2a2a" stroke-width="1.0"/>
<line x1="432.50" y1="391.70" x2="436.50" y2="391.70" stroke="#2a2a2a" stroke-width="1.1"/>
<circle cx="434.25" cy="388.80" r="1.25" fill="#000"/>
<rect x="445.80" y="390.20" width="6.60" height="66.00" fill="#fff" stroke="#222" stroke-width="1.0"/>
<line x1="449.50" y1="389.70" x2="449.50" y2="385.60" stroke="#2a2a2a" stroke-width="1.0"/>
<line x1="447.50" y1="385.60" x2="451.50" y2="385.60" stroke="#2a2a2a" stroke-width="1.1"/>
<rect x="454.50" y="318.20" width="7.70" height="138.00" fill="#000"/>
<line x1="458.50" y1="318.20" x2="458.50" y2="306.00" stroke="#2a2a2a" stroke-width="1.0"/>
<line x1="456.50" y1="306.00" x2="460.50" y2="306.00" stroke="#2a2a2a" stroke-width="1.1"/>
<circle cx="458.35" cy="303.00" r="1.25" fill="#000"/>
<rect x="469.90" y="371.00" width="6.60" height="85.20" fill="#fff" stroke="#222" stroke-width="1.0"/>
<line x1="473.50" y1="370.50" x2="473.50" y2="360.80" stroke="#2a2a2a" stroke-width="1.0"/>
<line x1="471.50" y1="360.80" x2="475.50" y2="360.80" stroke="#2a2a2a" stroke-width="1.1"/>
<rect x="478.60" y="290.80" width="7.70" height="165.40" fill="#000"/>
<line x1="482.50" y1="290.80" x2="482.50" y2="273.50" stroke="#2a2a2a" stroke-width="1.0"/>
<line x1="480.50" y1="273.50" x2="484.50" y2="273.50" stroke="#2a2a2a" stroke-width="1.1"/>
<circle cx="482.45" cy="270.20" r="1.25" fill="#000"/>
<rect x="494.00" y="422.20" width="6.60" height="34.00" fill="#fff" stroke="#222" stroke-width="1.0"/>
<line x1="497.50" y1="421.70" x2="497.50" y2="416.30" stroke="#2a2a2a" stroke-width="1.0"/>
<line x1="495.50" y1="416.30" x2="499.50" y2="416.30" stroke="#2a2a2a" stroke-width="1.1"/>
<rect x="502.70" y="392.10" width="7.70" height="64.10" fill="#000"/>
<line x1="506.50" y1="392.10" x2="506.50" y2="389.80" stroke="#2a2a2a" stroke-width="1.0"/>
<line x1="504.50" y1="389.80" x2="508.50" y2="389.80" stroke="#2a2a2a" stroke-width="1.1"/>
<circle cx="506.55" cy="386.40" r="1.25" fill="#000"/>
</svg>
</body></html>
